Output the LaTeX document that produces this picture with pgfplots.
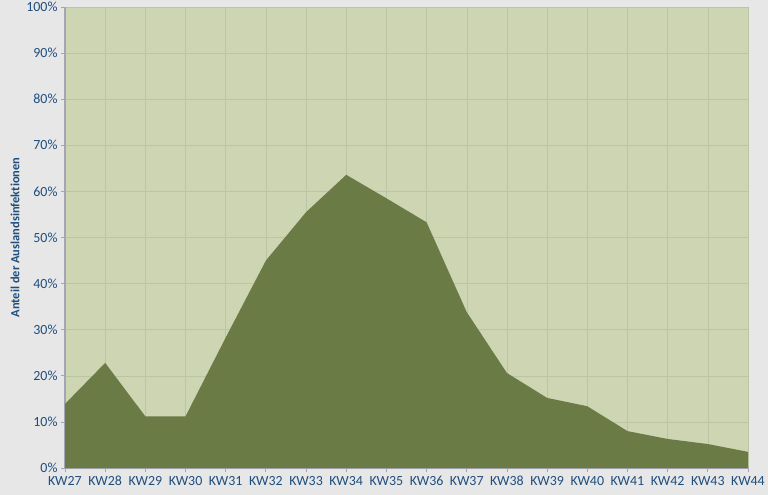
\documentclass[border=0pt]{standalone}
\usepackage{pgfplots}
\pgfplotsset{compat=1.18}
\usepackage{fontspec}
\setmainfont{Carlito}[Ligatures={NoCommon,NoRequired},Numbers=Lining]
\definecolor{bggray}{HTML}{E7E7E7}
\definecolor{plotbg}{HTML}{CDD5B3}
\definecolor{areacol}{HTML}{6B7B45}
\definecolor{gridcol}{HTML}{BCC5A3}
\definecolor{axiscol}{HTML}{A2A5B6}
\definecolor{txtblue}{HTML}{1F4E7E}
\begin{document}
\begin{tikzpicture}
\useasboundingbox (-65bp,-27bp) rectangle (703bp,468bp);
\fill[bggray] (-65bp,-27bp) rectangle (703bp,468bp);
\begin{axis}[
  scale only axis,
  width=683bp, height=461bp,
  xmin=0, xmax=17, ymin=0, ymax=100,
  axis x line*=bottom, axis y line*=left,
  axis line style={axiscol, line width=1.2pt},
  axis background/.style={fill=plotbg},
  xtick={0,...,17},
  xticklabels={KW27,KW28,KW29,KW30,KW31,KW32,KW33,KW34,KW35,KW36,KW37,KW38,KW39,KW40,KW41,KW42,KW43,KW44},
  ytick={0,10,...,100},
  yticklabel={\pgfmathprintnumber{\tick}\%},
  /pgf/number format/assume math mode=true,
  tick align=outside, major tick length=4bp,
  tick style={axiscol, line width=0.8pt},
  grid=major,
  major grid style={gridcol, line width=0.5pt},
  ticklabel style={font=\fontsize{14}{16}\selectfont, text=txtblue},
  xticklabel style={text height=9bp, text depth=1bp, yshift=-1bp},
  ylabel={Anteil der Auslandsinfektionen},
  ylabel style={at={(axis description cs:-0.073,0.5)}, anchor=center,
    font=\fontsize{12.5}{14}\selectfont\bfseries, text=txtblue},
]
\addplot[fill=areacol, draw=none] coordinates {
  (0,13.9) (1,22.8) (2,11.2) (3,11.2) (4,28.3) (5,45.0) (6,55.5) (7,63.6)
  (8,58.5) (9,53.3) (10,33.8) (11,20.6) (12,15.2) (13,13.4) (14,8.0)
  (15,6.3) (16,5.2) (17,3.5)
} \closedcycle;
\end{axis}
\end{tikzpicture}
\end{document}
